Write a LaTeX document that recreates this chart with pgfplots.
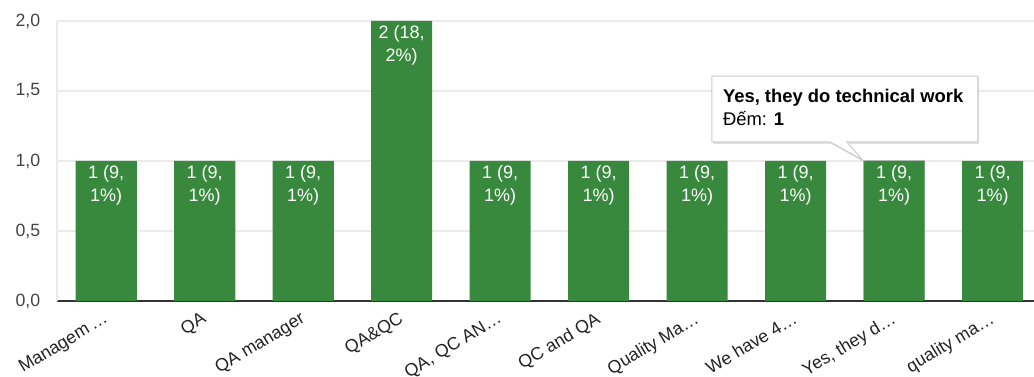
\documentclass[border=0pt]{standalone}
\usepackage{pgfplots}
\pgfplotsset{compat=1.18}
\usepackage{pgfplotstable}
\usepackage{fontspec}
\setmainfont{Liberation Sans}
\usetikzlibrary{shadows}
\definecolor{bargreen}{RGB}{56,137,62}
\definecolor{gridgray}{RGB}{235,235,235}
\definecolor{ytc}{RGB}{68,68,68}
\definecolor{xtc}{RGB}{34,34,34}
\definecolor{basecol}{RGB}{51,51,51}
\definecolor{tipborder}{RGB}{204,204,204}
\newcommand\labA{1 (9,\\1\%)}
\newcommand\labB{2 (18,\\2\%)}
\pgfplotstableread{
x y lab
0 1 A
1 1 A
2 1 A
3 2 B
4 1 A
5 1 A
6 1 A
7 1 A
8 1 A
9 1 A
}\datatable
\begin{document}
\begin{tikzpicture}
\useasboundingbox (-42.75pt,-57pt) rectangle (732.75pt,225.75pt);
\begin{axis}[
  at={(0,0)}, anchor=south west, scale only axis,
  width=732.75pt, height=210pt,
  ybar, bar width=0.62,
  xmin=-0.5, xmax=9.42, ymin=0, ymax=2,
  ytick={0,0.5,1,1.5,2},
  xtick={0,...,9},
  xticklabels={Managem\,…, QA, QA manager, QA\&QC, {QA, QC AN…}, QC and QA, Quality Ma…, We have 4…, {Yes, they d…}, quality ma…},
  axis x line*=bottom, axis y line*=left,
  x axis line style={draw=basecol, line width=0.9pt, -},
  y axis line style={draw=gridgray, line width=0.9pt, -},
  major tick length=0pt,
  ymajorgrids, grid style={draw=gridgray, line width=0.9pt},
  /pgf/number format/.cd, fixed, fixed zerofill, precision=1, use comma, assume math mode=true,
  /pgfplots/.cd,
  yticklabel style={font=\fontsize{13.3}{15}\selectfont, text=ytc, xshift=-9pt},
  xticklabel style={rotate=31, anchor=north east, font=\fontsize{13.3}{15}\selectfont, text=xtc, xshift=-3pt, yshift=-1.5pt},
  point meta=explicit symbolic,
  nodes near coords={\csname lab\pgfplotspointmeta\endcsname},
  every node near coord/.append style={anchor=north, align=center, text=white, font=\fontsize{13.5}{17.3}\selectfont, inner sep=1pt, yshift=-2pt},
]
\fill[black, opacity=0.18] (axis cs:7.683,0) rectangle (axis cs:8.317,1.006);
\addplot[fill=bargreen, draw=none] table[x=x, y=y, meta=lab]{\datatable};
\draw[draw=tipborder, fill=white, line width=0.75pt, drop shadow={shadow xshift=1pt, shadow yshift=-1.5pt, opacity=0.25}]
  (axis cs:6.15,1.136) -- (axis cs:7.35,1.136) -- (axis cs:7.68,1.007) -- (axis cs:7.52,1.136)
  -- (axis cs:8.85,1.136) -- (axis cs:8.85,1.607) -- (axis cs:6.15,1.607) -- cycle;
\node[anchor=base west, inner sep=0pt, font=\fontsize{13.8}{16}\selectfont\bfseries, text=black] at (axis cs:6.26,1.421) {Yes, they do technical work};
\node[anchor=base west, inner sep=0pt, font=\fontsize{13.8}{16}\selectfont, text=black] at (axis cs:6.26,1.257) {Đếm: \textbf{1}};
\end{axis}
\end{tikzpicture}
\end{document}
